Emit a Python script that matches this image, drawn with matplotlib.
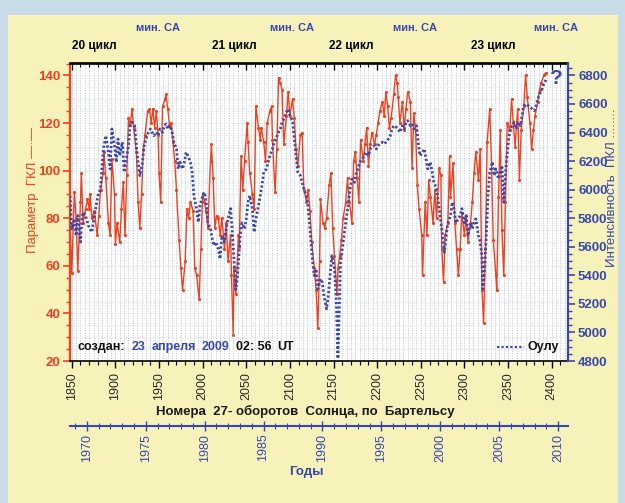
import matplotlib
matplotlib.use('Agg')
import matplotlib.pyplot as plt
from matplotlib.patches import Rectangle
from matplotlib.lines import Line2D
from matplotlib.ticker import MultipleLocator, FixedLocator
import numpy as np

plt.rcParams['font.family'] = ['Liberation Sans', 'DejaVu Sans']

# ---------------- data ----------------
red_rot = [1848, 1850, 1853, 1855, 1857, 1860, 1861, 1863, 1866, 1868, 1870, 1871, 1873, 1876, 1879,
           1881, 1883, 1886, 1887, 1889, 1892, 1894, 1896, 1899, 1900, 1902, 1905, 1907, 1909, 1911,
           1913, 1915, 1917, 1919, 1921, 1924, 1926, 1928, 1930, 1932, 1934, 1937, 1939, 1941, 1943,
           1945, 1947, 1949, 1950, 1952, 1954, 1957, 1958, 1960, 1962, 1964, 1966, 1968, 1970, 1973,
           1975, 1977, 1980, 1982, 1984, 1986, 1989, 1991, 1993, 1996, 1998, 2000, 2002, 2004, 2006,
           2009, 2010, 2012, 2014, 2016, 2018, 2020, 2022, 2025, 2027, 2029, 2032, 2033, 2035, 2036,
           2038, 2041, 2042, 2044, 2046, 2048, 2051, 2052, 2054, 2057, 2059, 2061, 2064, 2066, 2067,
           2070, 2072, 2074, 2077, 2079, 2080, 2083, 2085, 2087, 2089, 2091, 2093, 2096, 2098, 2100,
           2103, 2105, 2107, 2109, 2112, 2114, 2116, 2119, 2121, 2123, 2125, 2128, 2130, 2132, 2134,
           2135, 2138, 2140, 2142, 2145, 2147, 2149, 2151, 2154, 2155, 2157, 2159, 2161, 2164, 2166,
           2168, 2171, 2173, 2175, 2177, 2179, 2181, 2184, 2186, 2188, 2190, 2192, 2194, 2197, 2199,
           2201, 2203, 2206, 2208, 2210, 2212, 2214, 2216, 2219, 2221, 2223, 2224, 2226, 2229, 2231,
           2233, 2235, 2238, 2240, 2242, 2244, 2246, 2248, 2251, 2252, 2255, 2257, 2259, 2261, 2264,
           2266, 2268, 2271, 2273, 2274, 2276, 2278, 2281, 2283, 2284, 2287, 2289, 2291, 2293, 2295,
           2297, 2300, 2302, 2304, 2307, 2309, 2311, 2313, 2316, 2318, 2320, 2322, 2324, 2326, 2329,
           2331, 2333, 2336, 2337, 2339, 2341, 2343, 2345, 2347, 2349, 2352, 2354, 2356, 2358, 2361,
           2363, 2365, 2368, 2370, 2372, 2375, 2377, 2379, 2381, 2384, 2386, 2388, 2391, 2393]
red_val = [78, 57, 91, 80, 58, 87, 99, 78, 84, 88, 84, 90, 80, 83, 73,
           81, 92, 99, 108, 97, 78, 73, 105, 90, 69, 78, 70, 84, 95, 73,
           98, 122, 119, 126, 118, 108, 87, 76, 90, 109, 115, 125, 126, 120, 126,
           118, 125, 115, 99, 87, 127, 130, 132, 126, 119, 120, 112, 104, 92, 71,
           59, 50, 62, 84, 80, 87, 83, 59, 56, 46, 67, 90, 87, 83, 76,
           104, 111, 97, 76, 81, 80, 73, 80, 67, 78, 62, 73, 56, 31, 59,
           48, 73, 68, 106, 92, 104, 120, 112, 99, 90, 84, 127, 118, 113, 118,
           112, 104, 120, 125, 127, 113, 91, 109, 139, 137, 134, 111, 123, 133, 123,
           130, 122, 109, 102, 115, 116, 92, 87, 92, 83, 70, 59, 50, 34, 62,
           88, 78, 76, 80, 94, 99, 76, 64, 48, 59, 64, 71, 80, 87, 97,
           87, 78, 104, 108, 97, 87, 113, 104, 111, 118, 102, 111, 116, 111, 115,
           120, 125, 129, 123, 133, 127, 118, 122, 132, 140, 137, 131, 120, 129, 117,
           126, 133, 129, 101, 124, 117, 94, 84, 73, 56, 87, 73, 96, 89, 78,
           92, 80, 101, 98, 67, 53, 73, 78, 106, 89, 103, 78, 67, 56, 67,
           82, 73, 81, 70, 78, 87, 99, 108, 96, 109, 50, 36, 67, 112, 126,
           103, 71, 56, 50, 89, 117, 75, 56, 87, 120, 117, 130, 120, 110, 126,
           96, 117, 127, 140, 131, 120, 109, 117, 123, 129, 134, 137, 140, 141]

blue_rot = [1848, 1850, 1853, 1855, 1857, 1860, 1862, 1864, 1867, 1869, 1871, 1873, 1876, 1878, 1880,
            1883, 1885, 1887, 1889, 1892, 1894, 1896, 1899, 1901, 1903, 1905, 1908, 1910, 1912, 1915,
            1917, 1919, 1922, 1924, 1926, 1928, 1931, 1933, 1935, 1938, 1940, 1942, 1944, 1947, 1949,
            1951, 1954, 1956, 1958, 1960, 1963, 1965, 1967, 1970, 1972, 1974, 1977, 1979, 1981, 1983,
            1986, 1988, 1990, 1993, 1995, 1997, 2000, 2002, 2004, 2006, 2009, 2011, 2013, 2015, 2018,
            2020, 2022, 2025, 2027, 2029, 2032, 2034, 2036, 2038, 2040, 2042, 2043, 2045, 2048, 2050,
            2052, 2054, 2057, 2059, 2061, 2064, 2066, 2068, 2070, 2073, 2075, 2077, 2080, 2082, 2084,
            2087, 2089, 2091, 2093, 2096, 2098, 2100, 2103, 2105, 2107, 2109, 2112, 2114, 2116, 2119,
            2121, 2123, 2126, 2128, 2130, 2132, 2135, 2137, 2139, 2142, 2144, 2146, 2148, 2151, 2153,
            2155, 2157, 2158, 2160, 2162, 2164, 2167, 2169, 2171, 2174, 2176, 2178, 2180, 2183, 2185,
            2187, 2190, 2192, 2194, 2197, 2199, 2201, 2203, 2206, 2208, 2210, 2213, 2215, 2217, 2219,
            2222, 2224, 2226, 2229, 2231, 2233, 2235, 2238, 2240, 2242, 2245, 2247, 2249, 2252, 2254,
            2256, 2258, 2261, 2263, 2265, 2268, 2270, 2272, 2274, 2277, 2279, 2281, 2284, 2286, 2288,
            2290, 2293, 2295, 2297, 2300, 2302, 2304, 2307, 2309, 2311, 2313, 2316, 2318, 2320, 2321,
            2323, 2325, 2327, 2329, 2332, 2334, 2336, 2339, 2341, 2343, 2345, 2348, 2350, 2352, 2355,
            2357, 2359, 2362, 2364, 2366, 2368, 2371, 2373, 2375, 2378, 2380, 2382, 2384, 2387, 2389,
            2391, 2394]
blue_val = [5958, 5725, 5795, 5678, 5818, 5633, 5818, 5842, 5795, 5748, 5725, 5702, 5818, 5888, 5958,
            6005, 6192, 6308, 6378, 6262, 6145, 6425, 6308, 6192, 6355, 6238, 6332, 6122, 6192, 6308,
            6448, 6472, 6448, 6308, 6192, 6098, 6192, 6308, 6355, 6402, 6425, 6402, 6378, 6402, 6378,
            6425, 6402, 6448, 6460, 6425, 6448, 6402, 6332, 6285, 6145, 6192, 6145, 6192, 6262, 6238,
            6192, 6122, 5958, 5867, 5772, 5888, 5958, 5982, 5912, 5767, 5725, 5655, 5608, 5633, 5585,
            5515, 5678, 5633, 5725, 5795, 5867, 5700, 5500, 5300, 5400, 5585, 5678, 5767, 5725, 5795,
            5912, 5958, 5867, 5702, 5795, 5888, 5958, 6028, 6122, 6145, 6192, 6238, 6285, 6332, 6355,
            6402, 6425, 6472, 6495, 6542, 6565, 6518, 6483, 6355, 6238, 6122, 6098, 6052, 6005, 5958,
            5867, 5725, 5492, 5398, 5445, 5305, 5375, 5352, 5258, 5165, 5258, 5398, 5538, 5445, 5258,
            4817, 5258, 5492, 5585, 5678, 5767, 5912, 6005, 6075, 6052, 6122, 6145, 6192, 6215, 6238,
            6262, 6238, 6285, 6297, 6308, 6285, 6308, 6320, 6332, 6320, 6332, 6355, 6378, 6425, 6448,
            6437, 6425, 6402, 6448, 6425, 6472, 6483, 6448, 6460, 6425, 6448, 6332, 6238, 6262, 6285,
            6215, 6145, 6192, 6122, 6052, 6005, 5912, 5818, 5725, 5562, 5678, 5767, 5818, 5912, 5867,
            5767, 5795, 5818, 5867, 5767, 5818, 5678, 5767, 5725, 5767, 5795, 5678, 5633, 5538, 5305,
            5445, 5678, 5958, 6122, 6192, 6098, 6145, 6075, 6122, 6168, 5912, 6192, 6308, 6425, 6448,
            6472, 6425, 6472, 6448, 6518, 6588, 6600, 6588, 6577, 6565, 6553, 6588, 6635, 6682, 6705,
            6740, 6775]

rot_ticks = list(range(1850, 2401, 50))
year_ticks = list(range(1970, 2011, 5))
red_ticks = list(range(20, 141, 20))
blue_ticks = list(range(4800, 6801, 200))
cycle_labels = ['20 цикл', '21 цикл', '22 цикл', '23 цикл']
min_label = 'мин. CA'

# ---------------- style ----------------
RED = '#f0401e'
BLUE = '#3a48ae'
W, H = 625, 503


def fx(px):
    return px / W


def fy(py):
    return 1 - py / H


def rot_to_year(r):
    return 1970 + (np.asarray(r) - 1867.3) / 13.5


fig = plt.figure(figsize=(6.25, 5.03), dpi=100, facecolor='#c9dbe6')
fig.patches.append(Rectangle((fx(8), 0), fx(618) - fx(8), fy(15), transform=fig.transFigure,
                             facecolor='#f6f2ba', edgecolor='none', zorder=-10))

L, R, T, B = 70, 568.3, 63.5, 361
ax = fig.add_axes([fx(L), fy(B), (R - L) / W, (B - T) / H])
ax.set_facecolor('white')
XL = (1848, 2419)
ax.set_xlim(XL)
ax.set_ylim(20, 145)

for v in np.arange(1850, 2420, 5):
    ax.axvline(v, color='#c2c8d8', lw=0.6, ls=(0, (1.5, 1.5)), zorder=0)
for h in np.arange(25, 145, 5):
    ax.axhline(h, color='#d9dde6', lw=0.5, ls=(0, (2, 2)), zorder=0)

ax.plot(red_rot, red_val, color=RED, lw=1.0, marker='.', ms=2.5, zorder=3)

ax2 = ax.twinx()
ax2.set_ylim(4800, 4800 + 125 * 2000 / 120)
ax2.plot(blue_rot, blue_val, color=BLUE, lw=2.0, ls=(0, (0.8, 0.8)), zorder=2)
ax2.set_xlim(XL)

# spines
for s in ['left', 'top', 'bottom']:
    ax2.spines[s].set_visible(False)
ax.spines['right'].set_visible(False)
ax.spines['left'].set_color(RED)
ax.spines['left'].set_linewidth(1.6)
ax2.spines['right'].set_color(BLUE)
ax2.spines['right'].set_linewidth(1.6)
ax.spines['top'].set_linewidth(1.2)
ax.spines['bottom'].set_linewidth(1.2)

ax.xaxis.set_major_locator(FixedLocator(rot_ticks))
ax.xaxis.set_minor_locator(MultipleLocator(10))
ax.tick_params(axis='x', which='major', direction='out', length=5, width=1, colors='black',
               labelsize=9, labelcolor='#2a2a2a', labelrotation=90, pad=3)
ax.tick_params(axis='x', which='minor', direction='out', length=3, width=0.8)

top = ax.secondary_xaxis('top')
top.xaxis.set_major_locator(FixedLocator(rot_ticks))
top.xaxis.set_minor_locator(MultipleLocator(10))
top.tick_params(which='major', direction='in', length=5, width=1, labeltop=False)
top.tick_params(which='minor', direction='in', length=3, width=0.8)
top.spines['top'].set_linewidth(1.2)

ax.yaxis.set_major_locator(FixedLocator(red_ticks))
ax.yaxis.set_minor_locator(MultipleLocator(5))
ax.tick_params(axis='y', which='major', direction='out', length=5, width=1.2, colors=RED,
               labelsize=9.5, pad=2)
ax.tick_params(axis='y', which='minor', direction='out', length=3, width=1, colors=RED)
for t in ax.get_yticklabels():
    t.set_fontweight('bold')

ax2.yaxis.set_major_locator(FixedLocator(blue_ticks))
ax2.yaxis.set_minor_locator(MultipleLocator(50))
ax2.tick_params(axis='y', which='major', direction='out', length=5, width=1.2, colors=BLUE,
                labelsize=9.5, pad=2)
ax2.tick_params(axis='y', which='minor', direction='out', length=3, width=1, colors=BLUE)
for t in ax2.get_yticklabels():
    t.set_fontweight('bold')

# axis labels
fig.text(fx(33), fy(190), 'Параметр  ГКЛ —·—', rotation=90, color=RED, fontsize=9.5,
         ha='center', va='center')
fig.text(fx(612), fy(188), 'Интенсивность  ПКЛ ........', rotation=90, color=BLUE, fontsize=9.5,
         ha='center', va='center')
fig.text(fx(305), fy(411), 'Номера  27- оборотов  Солнца, по  Бартельсу', fontsize=9.5,
         fontweight='bold', color='#1a1a1a', ha='center', va='center')

# year axis
ax3 = fig.add_axes([fx(L), fy(426), (R - L) / W, 0.0001])
ax3.patch.set_visible(False)
for s in ['left', 'right', 'top']:
    ax3.spines[s].set_visible(False)
ax3.spines['bottom'].set_color(BLUE)
ax3.spines['bottom'].set_linewidth(1.5)
ax3.set_yticks([])
ax3.set_xlim(rot_to_year(XL[0]), rot_to_year(XL[1]))
ax3.xaxis.set_major_locator(FixedLocator(year_ticks))
ax3.xaxis.set_minor_locator(MultipleLocator(1))
ax3.tick_params(axis='x', which='major', direction='inout', length=7, width=1, colors=BLUE,
                labelsize=9, labelrotation=90, pad=2)
ax3.tick_params(axis='x', which='minor', direction='inout', length=4, width=0.8, colors=BLUE)
fig.text(fx(306), fy(472), 'Годы', fontsize=9.5, fontweight='bold', color=BLUE,
         ha='center', va='center')

# top annotations
for px in [158, 292, 415, 556]:
    fig.text(fx(px), fy(28), min_label, fontsize=8, fontweight='bold', color=BLUE,
             ha='center', va='center')
for px, lab in zip([94, 234, 351, 493], cycle_labels):
    fig.text(fx(px), fy(46), lab, fontsize=8.5, fontweight='bold', color='black',
             ha='center', va='center')

fig.text(fx(556), fy(78), '?', fontsize=15, fontweight='bold', color=BLUE,
         ha='center', va='center')

# legend
fig.add_artist(Line2D([fx(497), fx(524)], [fy(347), fy(347)], color=BLUE, lw=1.6,
                      ls=(0, (1, 1)), transform=fig.transFigure))
fig.text(fx(528), fy(347), 'Оулу', fontsize=9, fontweight='bold', color='#111111',
         ha='left', va='center')

# created stamp
renderer = fig.canvas.get_renderer()
parts = [('создан:', '#111111'), ('23', BLUE), ('апреля', BLUE), ('2009', BLUE),
         ('02: 56', '#111111'), ('UT', '#111111')]
xpix = 78
for txt, col in parts:
    t = fig.text(fx(xpix), fy(347), txt, fontsize=9, fontweight='bold', color=col,
                 ha='left', va='center')
    bb = t.get_window_extent(renderer=renderer)
    xpix = bb.x1 + 6

fig.savefig('out.png', dpi=100, facecolor=fig.get_facecolor())
